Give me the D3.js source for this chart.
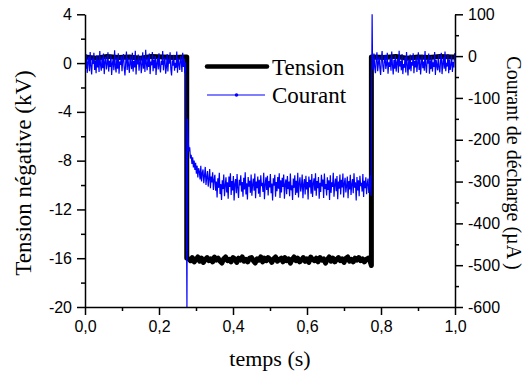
<!DOCTYPE html>
<html><head><meta charset="utf-8">
<script src="https://cdn.jsdelivr.net/npm/d3@7/dist/d3.min.js"></script>
<style>body{margin:0;background:#fff}svg{display:block}</style>
</head><body><svg id="c" width="528" height="376"></svg>
<script>
// ---- data ----
const xTicks = [0, 0.2, 0.4, 0.6, 0.8, 1.0];
const xTickLabels = ["0,0", "0,2", "0,4", "0,6", "0,8", "1,0"];
const xMinorTicks = [0.1, 0.3, 0.5, 0.7, 0.9];
const leftTicks = [-20, -16, -12, -8, -4, 0, 4];
const leftMinorTicks = [-18, -14, -10, -6, -2, 2];
const rightTicks = [-600, -500, -400, -300, -200, -100, 0, 100];
const rightMinorTicks = [-550, -450, -350, -250, -150, -50, 50];

// Tension (kV)
const tensionBeforeTimes = [0, 0.03, 0.06, 0.09, 0.12, 0.15, 0.18, 0.21, 0.24, 0.27, 0.275, 0.275];
const tensionBeforeValues = [0.5, 0.4, 0.55, 0.45, 0.5, 0.4, 0.55, 0.5, 0.45, 0.5, 0.5, -16.0];
const tensionLowStart = 0.28;
const tensionLowStep = 0.005;
const tensionLow = [-16.05, -16.2, -15.95, -16.3, -16.1, -15.9, -16.25, -16.0, -16.35, -16.1,
  -15.95, -16.2, -16.05, -16.3, -15.9, -16.15, -16.0, -16.25, -16.4, -16.05,
  -15.9, -16.2, -16.1, -16.3, -15.95, -16.05, -16.35, -16.0, -16.15, -15.9,
  -16.25, -16.1, -16.3, -16.0, -15.95, -16.2, -16.4, -16.05, -16.15, -15.9,
  -16.3, -16.0, -16.2, -15.95, -16.1, -16.35, -16.05, -15.9, -16.25, -16.1,
  -16.0, -16.3, -15.95, -16.2, -16.05, -16.4, -16.1, -15.9, -16.2, -16.0,
  -16.3, -16.15, -15.95, -16.25, -16.05, -16.35, -15.9, -16.1, -16.2, -16.0,
  -16.3, -15.95, -16.15, -16.05, -16.4, -16.1, -15.9, -16.25, -16.0, -16.3,
  -16.1, -15.95, -16.2, -16.05, -16.35, -16.0, -15.9, -16.25, -16.1, -16.3,
  -16.0, -16.15, -15.95, -16.2, -16.05, -16.3, -16.1, -16.0, -16.2];
const tensionAfterTimes = [0.774, 0.774, 0.78, 0.81, 0.84, 0.87, 0.90, 0.93, 0.96, 0.99, 1.0];
const tensionAfterValues = [-16.6, 0.5, 0.5, 0.45, 0.55, 0.4, 0.5, 0.45, 0.55, 0.5, 0.5];

// Courant (µA), sampled every 0.002 s
const sampleStep = 0.002;
const currentBeforeStart = 0;
const currentBefore = [-8, -31, 4, -40, -15, -2, -36, 10, -25, -44,
  -6, -19, 8, -33, -12, -41, 2, -27, -9, -38,
  12, -22, -35, -4, -29, 6, -43, -14, -1, -32,
  -20, 9, -37, -11, -26, 3, -45, -17, -7, -34,
  14, -24, -39, -3, -30, 7, -42, -13, -21, 0,
  -36, -10, 5, -28, -46, -16, 11, -33, -5, -23,
  -40, 2, -18, -31, 8, -37, -12, -27, 13, -44,
  -9, -20, 4, -35, -15, -1, -41, -24, 9, -30,
  -6, -38, 15, -19, -34, -2, -26, 6, -43, -13,
  -22, 10, -36, -8, -29, 1, -45, -17, -4, -32,
  7, -25, -39, -11, -21, 12, -34, -14, -3, -42,
  -27, 5, -37, -7, -18, 9, -31, -46, -10, -23,
  3, -35, -16, -28, 11, -40, -5, -20, -33, 0,
  -12, -38, 8, -26, -6, -41, -15];
const currentDuringStart = 0.277;
const currentDuring = [-150, -205, -228, -218, -245, -236, -258, -242, -266, -250,
  -272, -255, -281, -262, -290, -268, -276, -295, -262, -300,
  -280, -271, -304, -286, -265, -308, -290, -275, -312, -294,
  -270, -316, -288, -302, -278, -320, -296,
  -284, -322, -300, -338, -292, -315, -279, -330, -306, -344,
  -297, -318, -283, -335, -310, -290, -326, -302, -341, -288,
  -313, -280, -332, -299, -321, -287, -345, -305, -294, -328,
  -282, -317, -339, -296, -309, -285, -324, -301, -336, -291,
  -319, -278, -331, -304, -343, -289, -312, -298, -327, -283,
  -334, -307, -293, -322, -281, -340, -300, -316, -288, -329,
  -296, -337, -285, -311, -303, -325, -279, -342, -308, -290,
  -320, -286, -333, -299, -314, -282, -328, -305, -345, -292,
  -310, -284, -336, -301, -323, -289, -317, -280, -339, -297,
  -326, -291, -313, -283, -341, -306, -295, -330, -287, -318,
  -300, -335, -281, -321, -309, -344, -293, -315, -285, -332,
  -298, -327, -279, -338, -304, -290, -324, -311, -283, -340,
  -307, -294, -331, -286, -319, -301, -343, -288, -314, -296,
  -329, -282, -337, -305, -292, -322, -280, -334, -299, -316,
  -289, -341, -303, -325, -284, -312, -295, -339, -281, -318,
  -306, -333, -290, -320, -297, -344, -285, -327, -302, -313,
  -279, -336, -308, -293, -323, -287, -342, -300, -317, -283,
  -331, -296, -314, -281, -338, -304, -291, -326, -310, -288,
  -340, -299, -319, -284, -332, -306, -294, -328, -280, -315,
  -302, -345, -289, -321, -297, -335, -286, -311, -303, -324,
  -282, -337, -298, -316, -290, -330, -305, -293, -327, -309,
  -285, -334];
const currentAfterStart = 0.777;
const currentAfter = [-3, -33, 6, -27, -41, -10, 9, -36, -18, -1,
  -29, -45, -7, 12, -24, -38, -13, 3, -31, -20,
  8, -42, -15, -26, -4, -35, 11, -22, -44, -9,
  -30, 2, -37, -16, -6, -40, 13, -25, -12, -34,
  5, -43, -19, -28, -2, -39, 10, -21, -46, -8,
  -32, 4, -36, -14, -23, 7, -41, -11, -27, 0,
  -38, -17, 9, -33, -5, -44, -20, 3, -29, -13,
  -35, 12, -24, -40, -7, -18, 6, -42, -10, -31,
  1, -37, -15, -26, 10, -45, -9, -22, -34, 4,
  -28, -39, -12, 8, -43, -19, -3, -30, 11, -36,
  -16, -25, 5, -41, -8, -33, -21, 2, -38, -14,
  -27, 7];
const spikeTimes = [0.2755, 0.776];
const spikeValues = [-600, 100];

// ---- layout ----
const svg = d3.select("#c");
const X0 = 85, X1 = 455, Y0 = 307, Y1 = 14.3;
const x = d3.scaleLinear().domain([0, 1]).range([X0, X1]);
const yL = d3.scaleLinear().domain([-20, 4]).range([Y0, Y1]);
const yR = d3.scaleLinear().domain([-600, 100]).range([Y0, Y1]);

svg.append("defs").append("clipPath").attr("id", "clip")
  .append("rect").attr("x", X0).attr("y", Y1 - 2).attr("width", X1 - X0).attr("height", Y0 - Y1 + 2);

// build series
const tension = [];
tensionBeforeTimes.forEach((t, i) => tension.push([t, tensionBeforeValues[i]]));
tensionLow.forEach((v, i) => tension.push([tensionLowStart + i * tensionLowStep, v]));
tensionAfterTimes.forEach((t, i) => tension.push([t, tensionAfterValues[i]]));

const current = [];
currentBefore.forEach((v, i) => current.push([currentBeforeStart + i * sampleStep, v]));
current.push([spikeTimes[0], spikeValues[0]]);
currentDuring.forEach((v, i) => current.push([currentDuringStart + i * sampleStep, v]));
current.push([spikeTimes[1], spikeValues[1]]);
currentAfter.forEach((v, i) => current.push([currentAfterStart + i * sampleStep, v]));

const plot = svg.append("g").attr("clip-path", "url(#clip)");
plot.append("path").datum(tension)
  .attr("d", d3.line().x(d => x(d[0])).y(d => yL(d[1])))
  .attr("fill", "none").attr("stroke", "#000").attr("stroke-width", 5)
  .attr("stroke-linejoin", "round");
plot.append("path").datum(current)
  .attr("d", d3.line().x(d => x(d[0])).y(d => yR(d[1])))
  .attr("fill", "none").attr("stroke", "#0000ff").attr("stroke-width", 1.2);

// ---- axes ----
const tickFont = "16px 'Liberation Sans', Arial, sans-serif";
function styleAxis(g) {
  g.selectAll("path.domain").attr("stroke", "#000").attr("stroke-width", 1.5);
  g.selectAll(".tick line").attr("stroke", "#000").attr("stroke-width", 1.5);
  g.selectAll("text").style("font", tickFont).attr("fill", "#000");
}
const gx = svg.append("g").attr("transform", `translate(0,${Y0})`)
  .call(d3.axisBottom(x).tickValues(xTicks).tickFormat((d, i) => xTickLabels[i]).tickSize(8).tickPadding(6).tickSizeOuter(0));
styleAxis(gx);
svg.append("g").attr("transform", `translate(0,${Y0})`)
  .call(d3.axisBottom(x).tickValues(xMinorTicks).tickFormat("").tickSize(4).tickSizeOuter(0))
  .call(g => { g.select(".domain").remove(); styleAxis(g); });
const gl = svg.append("g").attr("transform", `translate(${X0},0)`)
  .call(d3.axisLeft(yL).tickValues(leftTicks).tickFormat(d => String(d)).tickSize(8).tickPadding(5).tickSizeOuter(0));
styleAxis(gl);
svg.append("g").attr("transform", `translate(${X0},0)`)
  .call(d3.axisLeft(yL).tickValues(leftMinorTicks).tickFormat("").tickSize(4).tickSizeOuter(0))
  .call(g => { g.select(".domain").remove(); styleAxis(g); });
const gr = svg.append("g").attr("transform", `translate(${X1},0)`)
  .call(d3.axisRight(yR).tickValues(rightTicks).tickFormat(d => String(d)).tickSize(8).tickPadding(5).tickSizeOuter(0));
styleAxis(gr);
svg.append("g").attr("transform", `translate(${X1},0)`)
  .call(d3.axisRight(yR).tickValues(rightMinorTicks).tickFormat("").tickSize(4).tickSizeOuter(0))
  .call(g => { g.select(".domain").remove(); styleAxis(g); });

// ---- titles ----
const serif = "'Liberation Serif', 'Times New Roman', serif";
svg.append("text").attr("x", (X0 + X1) / 2).attr("y", 366).attr("text-anchor", "middle")
  .style("font-family", serif).style("font-size", "22px").text("temps (s)");
svg.append("text").attr("transform", `translate(31,173) rotate(-90)`).attr("text-anchor", "middle")
  .style("font-family", serif).style("font-size", "23px").text("Tension négative (kV)");
svg.append("text").attr("transform", `translate(507,163) rotate(90)`).attr("text-anchor", "middle")
  .style("font-family", serif).style("font-size", "20px").text("Courant de décharge (µA )");

// ---- legend ----
const legend = svg.append("g");
legend.append("line").attr("x1", 207).attr("x2", 267).attr("y1", 66.5).attr("y2", 66.5)
  .attr("stroke", "#000").attr("stroke-width", 4.5).attr("stroke-linecap", "round");
legend.append("text").attr("x", 272).attr("y", 75).style("font-family", serif).style("font-size", "23px").text("Tension");
legend.append("line").attr("x1", 207).attr("x2", 265).attr("y1", 95).attr("y2", 95)
  .attr("stroke", "#0000ff").attr("stroke-width", 1);
legend.append("circle").attr("cx", 236.5).attr("cy", 95).attr("r", 1.8).attr("fill", "#0000ff");
legend.append("text").attr("x", 272).attr("y", 103).style("font-family", serif).style("font-size", "23px").text("Courant");
</script></body></html>
